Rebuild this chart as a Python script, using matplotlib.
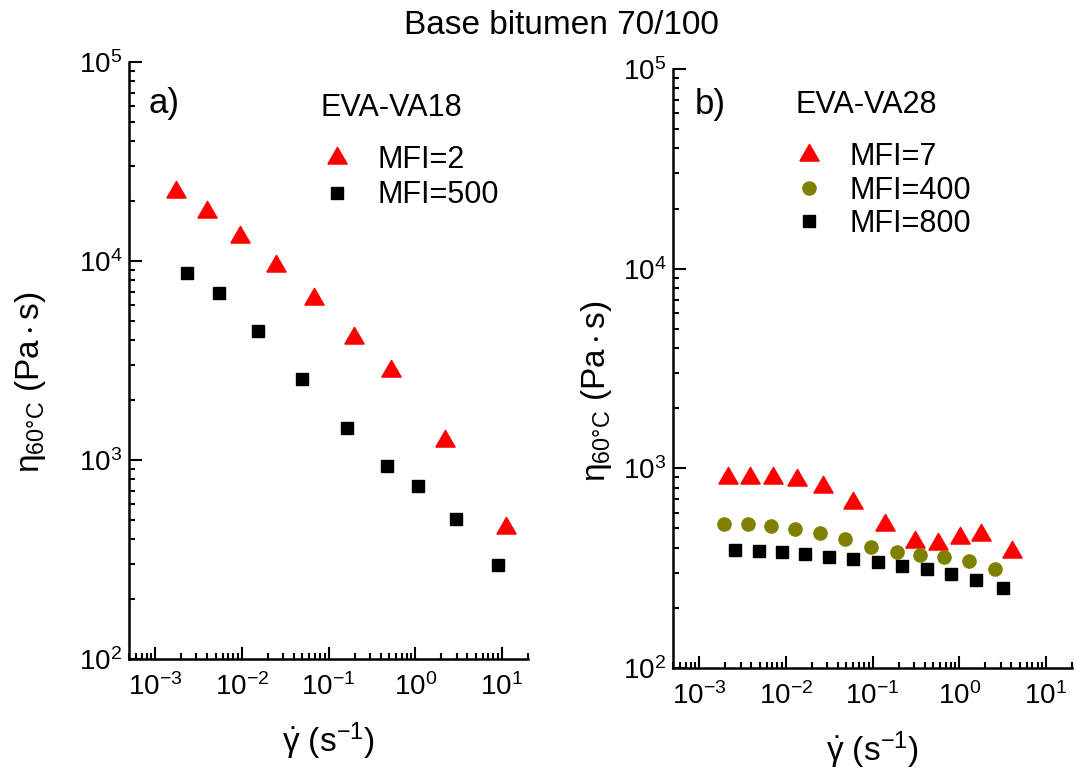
"""Plot zero-shear viscosity at 60 C of EVA modified base bitumen 70/100."""

from __future__ import annotations

import matplotlib

matplotlib.use("Agg")

import matplotlib.pyplot as plt
from matplotlib.ticker import LogLocator

# Panel a) EVA-VA18
VA18_MFI2_RATE = [1.73e-3, 3.94e-3, 9.6e-3, 0.0249, 0.068, 0.195, 0.53, 2.23, 11.2]
VA18_MFI2_ETA = [22100, 17700, 13200, 9440, 6410, 4100, 2790, 1245, 455]
VA18_MFI500_RATE = [2.32e-3, 5.4e-3, 0.0153, 0.049, 0.163, 0.47, 1.09, 2.93, 9.1]
VA18_MFI500_ETA = [8730, 6920, 4470, 2540, 1450, 933, 736, 505, 298]

# Panel b) EVA-VA28
VA28_MFI7_RATE = [2.13e-3, 3.85e-3, 7.05e-3, 0.0135, 0.0267, 0.0593,
                  0.138, 0.306, 0.569, 1.01, 1.77, 4.01]
VA28_MFI7_ETA = [891, 898, 898, 874, 810, 673, 521, 430, 417, 447, 461, 379]
VA28_MFI400_RATE = [1.94e-3, 3.62e-3, 6.75e-3, 0.0129, 0.0246, 0.0483,
                    0.0966, 0.19, 0.356, 0.668, 1.29, 2.57]
VA28_MFI400_ETA = [525, 525, 515, 498, 473, 443, 403, 379, 366, 361, 345, 314]
VA28_MFI800_RATE = [2.58e-3, 4.85e-3, 8.95e-3, 0.0168, 0.0318, 0.0603,
                    0.115, 0.218, 0.421, 0.811, 1.58, 3.21]
VA28_MFI800_ETA = [391, 386, 379, 374, 361, 351, 338, 325, 314, 296, 277, 251]

TITLE = "Base bitumen 70/100"
XLABEL = r"$\mathregular{\dot{\gamma}\ (s^{-1})}$"
YLABEL = r"$\mathregular{\eta_{60°C}\ (Pa\cdot s)}$"

RED = "#ff0000"
OLIVE = "#808000"
BLACK = "#000000"
# equilateral triangle, centred on its centroid
TRIANGLE = [(-1.0, -0.577), (1.0, -0.577), (0.0, 1.155), (-1.0, -0.577)]


def apply_style() -> None:
    plt.rcParams["font.family"] = ["Liberation Sans", "DejaVu Sans"]
    plt.rcParams["mathtext.fontset"] = "custom"
    plt.rcParams["mathtext.rm"] = "Liberation Sans"
    plt.rcParams["mathtext.it"] = "Liberation Sans:italic"
    plt.rcParams["mathtext.bf"] = "Liberation Sans:bold"


def style_axes(ax, label_pos: tuple[float, float]) -> None:
    """Log axes, left/bottom spines only, inward ticks."""
    ax.set_xscale("log")
    ax.set_yscale("log")
    ax.set_xlim(5e-4, 20)
    ax.set_ylim(1e2, 1e5)
    for side in ("top", "right"):
        ax.spines[side].set_visible(False)
    for side in ("left", "bottom"):
        ax.spines[side].set_linewidth(1.8)
    ax.xaxis.set_major_locator(LogLocator(base=10, numticks=10))
    ax.xaxis.set_minor_locator(LogLocator(base=10, subs=range(2, 10), numticks=20))
    ax.tick_params(which="both", direction="in", top=False, right=False, width=1.5)
    ax.tick_params(which="major", length=9, labelsize=20)
    ax.tick_params(which="minor", length=4.5)
    ax.tick_params(axis="x", which="major", pad=10)
    ax.tick_params(axis="y", which="major", pad=5)
    ax.set_xlabel(XLABEL, fontsize=24, labelpad=14)
    ax.set_ylabel(YLABEL, fontsize=24)
    ax.yaxis.set_label_coords(*label_pos)


def plot_va18(ax) -> None:
    ax.plot(VA18_MFI2_RATE, VA18_MFI2_ETA, ls="none", marker=TRIANGLE,
            ms=16, color=RED, label="MFI=2")
    ax.plot(VA18_MFI500_RATE, VA18_MFI500_ETA, ls="none", marker="s",
            ms=9, color=BLACK, label="MFI=500")
    style_axes(ax, (-0.203, 0.464))
    ax.text(0.048, 0.931, "a)", transform=ax.transAxes, fontsize=25,
            ha="left", va="center")
    ax.text(0.481, 0.923, "EVA-VA18", transform=ax.transAxes, fontsize=22,
            ha="left", va="center")
    ax.legend(loc="center left", bbox_to_anchor=(0.484, 0.806), frameon=False,
              fontsize=22, borderpad=0, borderaxespad=0, handlelength=1.0,
              handletextpad=0.81, labelspacing=0.16)


def plot_va28(ax) -> None:
    ax.plot(VA28_MFI7_RATE, VA28_MFI7_ETA, ls="none", marker=TRIANGLE,
            ms=16, color=RED, label="MFI=7")
    ax.plot(VA28_MFI400_RATE, VA28_MFI400_ETA, ls="none", marker="o",
            ms=9.5, color=OLIVE, label="MFI=400")
    ax.plot(VA28_MFI800_RATE, VA28_MFI800_ETA, ls="none", marker="s",
            ms=9, color=BLACK, label="MFI=800")
    style_axes(ax, (-0.148, 0.462))
    ax.text(0.055, 0.94, "b)", transform=ax.transAxes, fontsize=25,
            ha="left", va="center")
    ax.text(0.308, 0.94, "EVA-VA28", transform=ax.transAxes, fontsize=22,
            ha="left", va="center")
    ax.legend(loc="center left", bbox_to_anchor=(0.303, 0.797), frameon=False,
              fontsize=22, borderpad=0, borderaxespad=0, handlelength=1.0,
              handletextpad=0.81, labelspacing=0.11)


def main() -> None:
    apply_style()
    fig = plt.figure(figsize=(10.76, 7.71), dpi=100)
    ax_a = fig.add_axes([0.1199, 0.1453, 0.3708, 0.7743])
    ax_b = fig.add_axes([0.6255, 0.1336, 0.3708, 0.7769])

    plot_va18(ax_a)
    plot_va28(ax_b)

    fig.text(561 / 1076, 1 - 26 / 771, TITLE, ha="center", va="center",
             fontsize=24)
    fig.savefig("out.png", dpi=100)
    plt.close("all")


if __name__ == "__main__":
    main()
